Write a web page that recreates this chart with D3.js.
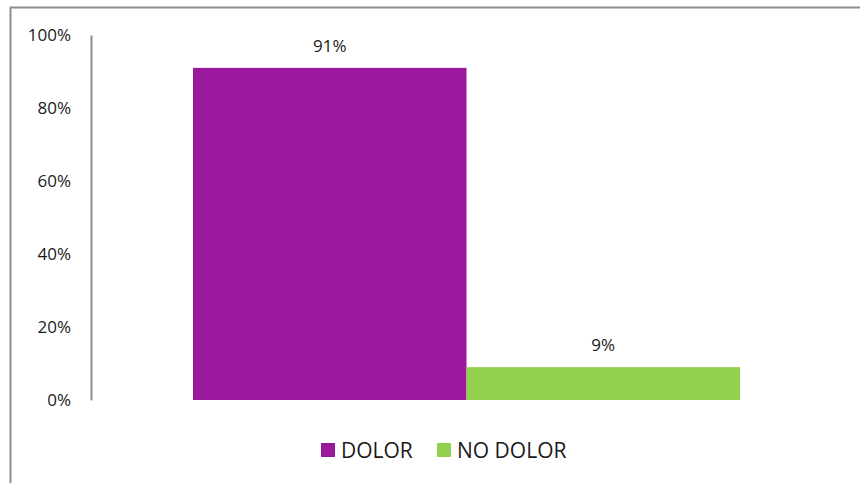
<!DOCTYPE html>
<html>
<head>
<meta charset="utf-8">
<script src="https://cdn.jsdelivr.net/npm/d3@7"></script>
<style>
  body { margin: 0; background: #fff; }
  text { font-family: "Open Sans", sans-serif; fill: #1a1a1a; }
</style>
</head>
<body>
<div id="chart"></div>
<script>
// data
const categories = ["Respuesta"];
const seriesNames = ["DOLOR", "NO DOLOR"];
const seriesValues = [0.91, 0.09];
const seriesColors = ["#99189b", "#92d050"];
const yTicks = [0, 0.2, 0.4, 0.6, 0.8, 1.0];

const width = 860;
const height = 483;
const margin = { top: 35, right: 18, bottom: 83, left: 91 };

const svg = d3.select("#chart")
              .append("svg")
              .attr("width", width)
              .attr("height", height);

// chart frame (only top and left edge fall inside the window)
svg.append("rect")
   .attr("x", 10.5)
   .attr("y", 7.5)
   .attr("width", width + 20)
   .attr("height", height + 20)
   .style("fill", "none")
   .style("stroke", "#8c8c8c")
   .style("stroke-width", 2);

const x0 = d3.scaleBand()
             .domain(categories)
             .range([margin.left, width - margin.right])
             .paddingInner(0)
             .paddingOuter(0.1865);

const x1 = d3.scaleBand()
             .domain(seriesNames)
             .range([0, x0.bandwidth()]);

const y = d3.scaleLinear()
            .domain([0, 1])
            .range([height - margin.bottom, margin.top]);

// y axis
const yAxis = d3.axisLeft(y)
                .tickValues(yTicks)
                .tickFormat(d3.format(".0%"))
                .tickSize(0)
                .tickPadding(20);

const gy = svg.append("g")
              .attr("transform", `translate(${margin.left},0)`)
              .call(yAxis);

gy.select(".domain")
  .style("stroke", "#8c8c8c")
  .style("stroke-width", 2);

gy.selectAll("text")
  .style("font-family", "'Open Sans', sans-serif")
  .style("font-size", "17px")
  .style("fill", "#1a1a1a");

// bars
const group = svg.append("g")
                 .selectAll("g")
                 .data(categories)
                 .enter()
                 .append("g")
                 .attr("transform", d => `translate(${x0(d)},0)`);

const bars = group.selectAll("rect")
                  .data(seriesNames.map((s, i) => ({ name: s, value: seriesValues[i], color: seriesColors[i] })))
                  .enter();

bars.append("rect")
    .attr("x", d => x1(d.name))
    .attr("y", d => y(d.value))
    .attr("width", x1.bandwidth())
    .attr("height", d => y(0) - y(d.value))
    .style("fill", d => d.color);

bars.append("text")
    .attr("x", d => x1(d.name) + x1.bandwidth() / 2)
    .attr("y", d => y(d.value) - 16)
    .attr("text-anchor", "middle")
    .style("font-size", "17px")
    .text(d => d3.format(".0%")(d.value));

// legend
const legendX = [321, 437];
const legend = svg.append("g")
                  .selectAll("g")
                  .data(seriesNames)
                  .enter()
                  .append("g")
                  .attr("transform", (d, i) => `translate(${legendX[i]}, 443)`);

legend.append("rect")
      .attr("width", 14)
      .attr("height", 14)
      .style("fill", (d, i) => seriesColors[i]);

legend.append("text")
      .attr("x", 20)
      .attr("y", 15)
      .style("font-size", "21px")
      .text(d => d);
</script>
</body>
</html>
